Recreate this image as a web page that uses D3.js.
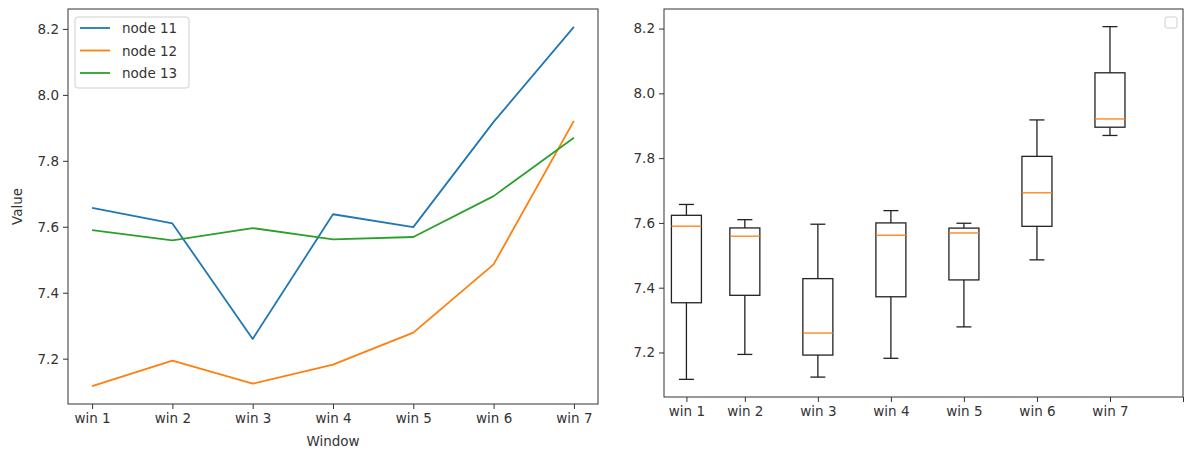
<!DOCTYPE html>
<html>
<head>
<meta charset="utf-8">
<script src="https://cdn.jsdelivr.net/npm/d3@7"></script>
<style>
  html, body { margin: 0; padding: 0; background: #fff; }
  svg { display: block; font-family: "DejaVu Sans", sans-serif; }
</style>
</head>
<body>
<svg id="chart" width="1190" height="454"></svg>
<script>
// ---- data ----
const windows = ["win 1", "win 2", "win 3", "win 4", "win 5", "win 6", "win 7"];
const seriesNames = ["node 11", "node 12", "node 13"];
const node11 = [7.657, 7.610, 7.260, 7.638, 7.599, 7.918, 8.206];
const node12 = [7.117, 7.194, 7.124, 7.182, 7.279, 7.486, 7.921];
const node13 = [7.590, 7.559, 7.596, 7.562, 7.569, 7.693, 7.870];
const yTicks = [7.2, 7.4, 7.6, 7.8, 8.0, 8.2];
const boxPositions = [1.2, 2, 3, 4, 5, 6, 7];
const extraTickPos = [8];

const colors = ["#1f77b4", "#ff7f0e", "#2ca02c"];
const series = [node11, node12, node13];
const svg = d3.select("#chart");
const textColor = "#333";
const fontSize = "13.5px";

const allVals = series.flat();
const vmin = d3.min(allVals), vmax = d3.max(allVals);
const pad = (vmax - vmin) * 0.05;
const yDomain = [vmin - pad, vmax + pad];

function styleAxis(g) {
  g.selectAll("path.domain").remove();
  g.selectAll(".tick line").attr("stroke", "#333").attr("stroke-width", 1);
  g.selectAll(".tick text").attr("fill", textColor).style("font-size", fontSize).style("font-family", "DejaVu Sans");
}

// ---- left: line chart ----
const L = { left: 68, right: 598, top: 9, bottom: 404 };
const xL = d3.scaleLinear().domain([-0.3, windows.length - 0.7]).range([L.left, L.right]);
const yL = d3.scaleLinear().domain(yDomain).range([L.bottom, L.top]);

const gL = svg.append("g");
const lineGen = d3.line().x((d, i) => xL(i)).y(d => yL(d));
series.forEach((s, k) => {
  gL.append("path").datum(s).attr("d", lineGen)
    .attr("fill", "none").attr("stroke", colors[k]).attr("stroke-width", 1.8)
    .attr("stroke-linejoin", "round");
});

gL.append("g").attr("transform", `translate(${L.left},0)`)
  .call(d3.axisLeft(yL).tickValues(yTicks).tickFormat(d3.format(".1f")).tickSize(5).tickPadding(4))
  .call(styleAxis);
gL.append("g").attr("transform", `translate(0,${L.bottom})`)
  .call(d3.axisBottom(xL).tickValues(d3.range(windows.length)).tickFormat(i => windows[i]).tickSize(5).tickPadding(4))
  .call(styleAxis);
gL.append("rect").attr("x", L.left).attr("y", L.top).attr("width", L.right - L.left).attr("height", L.bottom - L.top)
  .attr("fill", "none").attr("stroke", "#333").attr("stroke-width", 1);

gL.append("text").attr("x", (L.left + L.right) / 2).attr("y", 446).attr("text-anchor", "middle")
  .attr("fill", textColor).style("font-size", fontSize).text("Window");
gL.append("text").attr("transform", `translate(22,${(L.top + L.bottom) / 2}) rotate(-90)`).attr("text-anchor", "middle")
  .attr("fill", textColor).style("font-size", fontSize).text("Value");

// legend
const lg = gL.append("g").attr("transform", `translate(75,17)`);
lg.append("rect").attr("width", 114).attr("height", 71).attr("rx", 3)
  .attr("fill", "#fff").attr("fill-opacity", 0.8).attr("stroke", "#d0d0d0");
seriesNames.forEach((n, k) => {
  const yy = 11 + k * 22.5;
  lg.append("line").attr("x1", 5).attr("x2", 35).attr("y1", yy).attr("y2", yy)
    .attr("stroke", colors[k]).attr("stroke-width", 1.8);
  lg.append("text").attr("x", 47).attr("y", yy + 5).attr("fill", textColor).style("font-size", fontSize).text(n);
});

// ---- right: box plot ----
const R = { left: 664, right: 1183, top: 9, bottom: 397 };
const xR = d3.scaleLinear().domain([0.893, 8]).range([R.left, R.right]);
const yR = d3.scaleLinear().domain(yDomain).range([R.bottom, R.top]);
const gR = svg.append("g");

const boxHalf = 15, capHalf = 7.5;
windows.forEach((w, i) => {
  const vals = series.map(s => s[i]).sort(d3.ascending);
  const q1 = d3.quantile(vals, 0.25), med = d3.quantile(vals, 0.5), q3 = d3.quantile(vals, 0.75);
  const iqr = q3 - q1;
  const lo = d3.min(vals.filter(v => v >= q1 - 1.5 * iqr));
  const hi = d3.max(vals.filter(v => v <= q3 + 1.5 * iqr));
  const cx = xR(boxPositions[i]);
  const g = gR.append("g").attr("stroke", "#222").attr("stroke-width", 1.3).attr("fill", "none");
  g.append("line").attr("x1", cx).attr("x2", cx).attr("y1", yR(q3)).attr("y2", yR(hi));
  g.append("line").attr("x1", cx).attr("x2", cx).attr("y1", yR(q1)).attr("y2", yR(lo));
  g.append("line").attr("x1", cx - capHalf).attr("x2", cx + capHalf).attr("y1", yR(hi)).attr("y2", yR(hi));
  g.append("line").attr("x1", cx - capHalf).attr("x2", cx + capHalf).attr("y1", yR(lo)).attr("y2", yR(lo));
  g.append("rect").attr("x", cx - boxHalf).attr("width", boxHalf * 2)
    .attr("y", yR(q3)).attr("height", yR(q1) - yR(q3));
  g.append("line").attr("x1", cx - boxHalf).attr("x2", cx + boxHalf).attr("y1", yR(med)).attr("y2", yR(med))
    .attr("stroke", "#ff7f0e");
});

gR.append("g").attr("transform", `translate(${R.left},0)`)
  .call(d3.axisLeft(yR).tickValues(yTicks).tickFormat(d3.format(".1f")).tickSize(5).tickPadding(4))
  .call(styleAxis);
gR.append("g").attr("transform", `translate(0,${R.bottom})`)
  .call(d3.axisBottom(xR).tickValues(boxPositions.concat(extraTickPos))
    .tickFormat((d, i) => i < windows.length ? windows[i] : "").tickSize(5).tickPadding(4))
  .call(styleAxis);
gR.append("rect").attr("x", R.left).attr("y", R.top).attr("width", R.right - R.left).attr("height", R.bottom - R.top)
  .attr("fill", "none").attr("stroke", "#333").attr("stroke-width", 1);

// empty legend box
gR.append("rect").attr("x", 1165).attr("y", 17).attr("width", 12).attr("height", 11).attr("rx", 2)
  .attr("fill", "#fff").attr("stroke", "#d0d0d0");
</script>
</body>
</html>
